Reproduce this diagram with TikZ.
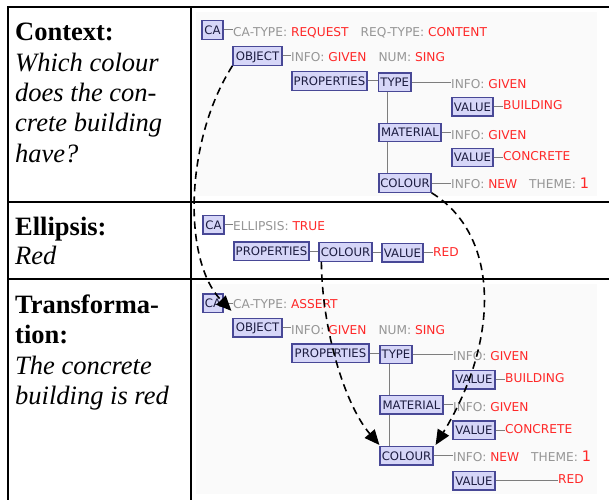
\documentclass[tikz,border=0pt]{standalone}
\usepackage{fontspec}
\setmainfont{Liberation Serif}
\newfontfamily\uifont{DejaVu Sans}
\usetikzlibrary{arrows.meta}

\definecolor{boxfill}{RGB}{214,214,248}
\definecolor{boxline}{RGB}{72,72,150}
\definecolor{boxtext}{RGB}{28,28,64}
\definecolor{attrgrey}{RGB}{150,150,150}
\definecolor{valred}{RGB}{255,40,40}
\definecolor{linkgrey}{RGB}{125,125,125}
\definecolor{panel}{RGB}{250,250,250}

% attribute names in grey, attribute values in red
\newcommand\fattr[1]{\textcolor{attrgrey}{#1}}
\newcommand\fval[1]{\textcolor{valred}{#1}}
\newcommand\fgap{\hspace{12pt}}
\newcommand\fbig[1]{{\fontsize{14.5}{14.5}\selectfont #1}}

\begin{document}
\begin{tikzpicture}[x=1pt,y=-1pt,
  rulefr/.style={line width=2pt,black},
  lefttxt/.style={anchor=base west,inner sep=0pt,font=\fontsize{26.5}{30}\selectfont},
  fsbox/.style={draw=boxline,fill=boxfill,line width=1.2pt,text=boxtext,
    font=\uifont\fontsize{11.7}{12}\selectfont,inner sep=0pt,
    text height=8.5pt,text depth=0pt,minimum height=18.5pt,minimum width=#1},
  ftxt/.style={anchor=west,inner sep=0pt,font=\uifont\fontsize{12.2}{13}\selectfont,
    text height=8.8pt,text depth=0pt},
  link/.style={draw=linkgrey,line width=1pt},
  refarrow/.style={draw=black,line width=1.6pt,dash pattern=on 7.5pt off 5pt,
    -{Triangle[length=15pt,width=13pt]}}]

\useasboundingbox (0,0) rectangle (609,500);
\fill[white] (0,0) rectangle (609,500);

% light screenshot backgrounds
\fill[panel] (196,12) rectangle (597,196);
\fill[panel] (196,284) rectangle (597,494);

% table rules
\draw[rulefr] (609,7) -- (8,7) -- (8,500);
\draw[rulefr] (191,7) -- (191,500);
\draw[rulefr] (8,202) -- (609,202);
\draw[rulefr] (8,279) -- (609,279);

% left column
\node[lefttxt] (l1a) at (15,40.7) {\textbf{Context:}};
\node[lefttxt] (l1b) at (15,71.7) {\textit{Which colour}};
\node[lefttxt] (l1c) at (15,101.7) {\textit{does the con-}};
\node[lefttxt] (l1d) at (15,131.7) {\textit{crete building}};
\node[lefttxt] (l1e) at (15,162) {\textit{have?}};
\node[lefttxt] (l2a) at (15,235) {\textbf{Ellipsis:}};
\node[lefttxt] (l2b) at (15,264.5) {\textit{Red}};
\node[lefttxt] (l3a) at (15,313) {\textbf{Transforma-}};
\node[lefttxt] (l3b) at (15,343) {\textbf{tion:}};
\node[lefttxt] (l3c) at (15,374.5) {\textit{The concrete}};
\node[lefttxt] (l3d) at (15,404.5) {\textit{building is red}};

% ---- context structure ----
\node[fsbox=21pt] (ca1) at (212.5,30) {CA};
\node[ftxt] (ca1t) at (233,32.5) {\fattr{CA-TYPE:} \fval{REQUEST}\fgap\fattr{REQ-TYPE:} \fval{CONTENT}};
\node[fsbox=49pt] (obj1) at (257.5,56) {OBJECT};
\node[ftxt] (obj1t) at (291,57.5) {\fattr{INFO:} \fval{GIVEN}\fgap\fattr{NUM:} \fval{SING}};
\node[fsbox=75pt] (prop1) at (329.5,81) {PROPERTIES};
\node[fsbox=32.5pt] (type1) at (394.75,82.2) {TYPE};
\node[ftxt] (type1t) at (451,83.7) {\fattr{INFO:} \fval{GIVEN}};
\node[fsbox=41pt] (val1a) at (472.5,106.8) {VALUE};
\node[ftxt] (val1at) at (503,105.5) {\fval{BUILDING}};
\node[fsbox=62pt] (mat1) at (410,132.5) {MATERIAL};
\node[ftxt] (mat1t) at (451,134.7) {\fattr{INFO:} \fval{GIVEN}};
\node[fsbox=41pt] (val1b) at (472.5,157.5) {VALUE};
\node[ftxt] (val1bt) at (503,156.2) {\fval{CONCRETE}};
\node[fsbox=52pt] (col1) at (405,183) {COLOUR};
\node[ftxt] (col1t) at (451,184.5) {\fattr{INFO:} \fval{NEW}\fgap\fattr{THEME:} \fval{\fbig{1}}};

\draw[link] (ca1.east) -- (ca1.east -| ca1t.west);
\draw[link] (obj1.east) -- (obj1.east -| obj1t.west);
\draw[link] (prop1.east) -- (prop1.east -| type1.west);
\draw[link] (type1.east) -- (type1.east -| type1t.west);
\draw[link] (val1a.east) -- (val1a.east -| val1at.west);
\draw[link] (mat1.east) -- (mat1.east -| mat1t.west);
\draw[link] (val1b.east) -- (val1b.east -| val1bt.west);
\draw[link] (col1.east) -- (col1.east -| col1t.west);
\draw[link] ([xshift=9.5pt]type1.south west) -- ([xshift=9.5pt]type1.south west |- mat1.north);
\draw[link] ([xshift=9.5pt]type1.south west |- mat1.south) -- ([xshift=9.5pt]type1.south west |- col1.north);

% ---- ellipsis structure ----
\node[fsbox=21pt] (ca2) at (213.5,224.8) {CA};
\node[ftxt] (ca2t) at (233,226.2) {\fattr{ELLIPSIS:} \fval{TRUE}};
\node[fsbox=75pt] (prop2) at (271.5,251.3) {PROPERTIES};
\node[fsbox=53pt] (col2) at (345.5,252) {COLOUR};
\node[fsbox=41pt] (val2) at (402.5,252.8) {VALUE};
\node[ftxt] (val2t) at (433,251.8) {\fval{RED}};

\draw[link] (ca2.east) -- (ca2.east -| ca2t.west);
\draw[link] (prop2.east) -- (prop2.east -| col2.west);
\draw[link] (col2.east) -- (col2.east -| val2.west);
\draw[link] (val2.east) -- (val2.east -| val2t.west);

% ---- transformed structure ----
\node[fsbox=20pt] (ca3) at (213,303.3) {CA};
\node[ftxt] (ca3t) at (233,304.5) {\fattr{CA-TYPE:} \fval{ASSERT}};
\node[fsbox=49pt] (obj3) at (257.5,327.7) {OBJECT};
\node[ftxt] (obj3t) at (291,329.7) {\fattr{INFO:} \fval{GIVEN}\fgap\fattr{NUM:} \fval{SING}};
\node[fsbox=77pt] (prop3) at (330.5,353.2) {PROPERTIES};
\node[fsbox=32pt] (type3) at (396,354.5) {TYPE};
\node[ftxt] (type3t) at (453,356.3) {\fattr{INFO:} \fval{GIVEN}};
\node[fsbox=42pt] (val3a) at (474,379.7) {VALUE};
\node[ftxt] (val3at) at (505,377.8) {\fval{BUILDING}};
\node[fsbox=63pt] (mat3) at (411.5,404.8) {MATERIAL};
\node[ftxt] (mat3t) at (453,407) {\fattr{INFO:} \fval{GIVEN}};
\node[fsbox=42pt] (val3b) at (474,430.3) {VALUE};
\node[ftxt] (val3bt) at (505,429) {\fval{CONCRETE}};
\node[fsbox=53pt] (col3) at (406.5,455.8) {COLOUR};
\node[ftxt] (col3t) at (453,457.5) {\fattr{INFO:} \fval{NEW}\fgap\fattr{THEME:} \fval{\fbig{1}}};
\node[fsbox=42pt] (val3c) at (474,480.8) {VALUE};
\node[ftxt] (val3ct) at (558,479) {\fval{RED}};

\draw[link] (ca3.east) -- (ca3.east -| ca3t.west);
\draw[link] (obj3.east) -- (obj3.east -| obj3t.west);
\draw[link] (prop3.east) -- (prop3.east -| type3.west);
\draw[link] (type3.east) -- (type3.east -| type3t.west);
\draw[link] (val3a.east) -- (val3a.east -| val3at.west);
\draw[link] (mat3.east) -- (mat3.east -| mat3t.west);
\draw[link] (val3b.east) -- (val3b.east -| val3bt.west);
\draw[link] (col3.east) -- (col3.east -| col3t.west);
\draw[link] (val3c.east) -- (val3c.east -| val3ct.west);
\draw[link] ([xshift=10pt]type3.south west) -- ([xshift=10pt]type3.south west |- mat3.north);
\draw[link] ([xshift=10pt]type3.south west |- mat3.south) -- ([xshift=10pt]type3.south west |- col3.north);

% ---- resolution arrows ----
\draw[refarrow] (obj1.south west) .. controls (185,140) and (182,260) .. ([xshift=-1pt,yshift=7pt]obj3.north west);
\draw[refarrow] (col1.south east) .. controls (500,235) and (500,340) .. ([xshift=2pt,yshift=1pt]col3.north east);
\draw[refarrow] ([xshift=3pt]col2.south west) .. controls (322,330) and (345,405) .. ([yshift=1pt]col3.north west);

\end{tikzpicture}
\end{document}
